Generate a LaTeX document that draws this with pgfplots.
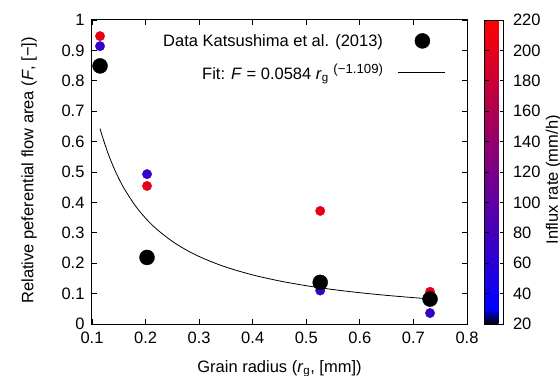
\documentclass[border=0pt]{standalone}
\usepackage{pgfplots}
\pgfplotsset{compat=1.18}
\usepackage{fontspec}
\setmainfont{Liberation Sans}
\newcommand{\fs}{\fontsize{16.5bp}{19bp}\selectfont}
\newcommand{\fss}{\fontsize{13.2bp}{15bp}\selectfont}
\pgfplotsset{
 colormap={kat}{rgb255(0cm)=(0,0,0) rgb255(1cm)=(0,0,255) rgb255(20cm)=(255,0,0)}
}
\begin{document}
\begin{tikzpicture}
\useasboundingbox (-92bp,-52bp) rectangle (468bp,324bp);
\begin{axis}[
 scale only axis, width=375bp, height=304bp,
 xmin=0.1, xmax=0.8, ymin=0, ymax=1,
 xtick={0.1,0.2,0.3,0.4,0.5,0.6,0.7,0.8},
 ytick={0,0.1,0.2,0.3,0.4,0.5,0.6,0.7,0.8,0.9,1},
 tick align=inside, major tick length=5bp,
 axis line style={line width=1bp},
 every tick/.style={black, line width=0.8bp},
 font=\fs,
 /pgf/number format/assume math mode=true,
 tick label style={font=\fs},
 xticklabel style={yshift=-4bp},
 yticklabel style={xshift=-4bp},
 xlabel={Grain radius (\textit{r}\textsubscript{g}, [mm])},
 ylabel={Relative peferential flow area (\textit{F}, [−])},
 xlabel style={at={(axis description cs:0.5,0)}, anchor=base, yshift=-48bp},
 ylabel style={at={(axis description cs:-0.168,0.505)}, anchor=center},
 colorbar, colormap name=kat, point meta min=20, point meta max=220,
 colorbar style={
   scale only axis, width=19bp, height=304bp,
   at={(parent axis.north east)}, anchor=north west, xshift=9bp,
   ytick={20,40,60,80,100,120,140,160,180,200,220},
   tick align=inside, major tick length=4bp,
   ytick pos=both, yticklabel pos=right,
   yticklabel style={font=\fs, xshift=6bp},
   /pgf/number format/assume math mode=true,
   axis line style={line width=0.8bp},
   ylabel={Influx rate (mm/h)},
   ylabel style={font=\fs, at={(axis description cs:3.64,0.474)}, anchor=center},
 },
 legend plot pos=right, legend cell align=right,
 legend style={draw=none, fill=none, at={(rel axis cs:1,1)}, anchor=north east,
   xshift=-21bp, yshift=-13bp, inner sep=0pt, column sep=15bp, row sep=15bp,
   font=\fs, nodes={inner sep=0pt}},
]
\addplot[scatter, only marks, mark=*, mark size=4.7bp, scatter src=explicit,
  scatter/use mapped color={draw=mapped color, fill=mapped color}, forget plot]
  table[meta=c] {
x y c
0.115 0.947 200
0.115 0.914 70
0.2027 0.493 70
0.2027 0.454 200
0.526 0.372 200
0.526 0.110 70
0.731 0.106 200
0.731 0.036 70
};
\addplot[only marks, mark=*, mark size=7.5bp, black,
  legend image code/.code={\fill[black] (24bp,0bp) circle (7.5bp); \path[draw=none,fill=none] (0bp,-1bp) rectangle (47bp,1bp);}]
  table {
x y
0.115 0.849
0.2027 0.219
0.526 0.137
0.731 0.082
};
\addlegendentry{Data Katsushima et al. (2013)}
\addplot[black, line width=0.8bp, smooth, no marks,
  legend image code/.code={\draw[black, line width=0.8bp] (0bp,0bp) -- (47bp,0bp);}]
  coordinates {
(0.115,0.6428) (0.12,0.6132) (0.13,0.5611) (0.14,0.5169) (0.15,0.4788)
(0.16,0.4457) (0.18,0.3911) (0.20,0.3480) (0.22,0.3131) (0.25,0.2717)
(0.28,0.2396) (0.31,0.2141) (0.35,0.1871) (0.40,0.1614) (0.45,0.1416)
(0.50,0.1260) (0.55,0.1133) (0.60,0.1029) (0.65,0.0942) (0.70,0.0867)
(0.73,0.0828)
};
\addlegendentry{Fit: \textit{F} = 0.0584 \textit{r}\textsubscript{g} \raisebox{6bp}{\fss(−1.109)}}
\end{axis}
\end{tikzpicture}
\end{document}
